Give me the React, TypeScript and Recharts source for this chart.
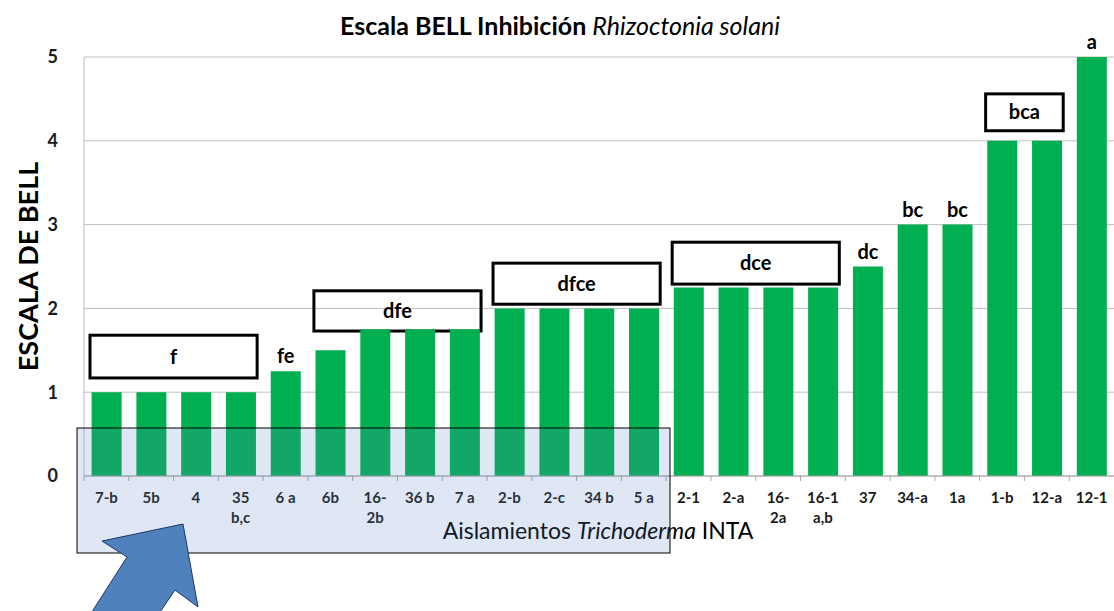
import {
  BarChart,
  Bar,
  XAxis,
  YAxis,
  CartesianGrid,
  ReferenceArea,
  LabelList,
} from "recharts";

const isolates = [
  "7-b", "5b", "4", "35\nb,c", "6 a", "6b", "16-\n2b", "36 b", "7 a", "2-b", "2-c", "34 b",
  "5 a", "2-1", "2-a", "16-\n2a", "16-1\na,b", "37", "34-a", "1a", "1-b", "12-a", "12-1",
];
const bellScores = [
  1, 1, 1, 1, 1.25, 1.5, 1.75, 1.75, 1.75, 2, 2, 2, 2, 2.25, 2.25, 2.25, 2.25, 2.5, 3, 3, 4, 4, 5,
];
const letters = [
  "", "", "", "", "fe", "", "", "", "", "", "", "", "", "", "", "", "", "dc", "bc", "bc", "", "", "a",
];
const yTicks = [0, 1, 2, 3, 4, 5];

// grupos estadísticos (recuadros)
const groupLabels = ["f", "dfe", "dfce", "dce", "bca"];
const groupFrom = ["7-b", "6b", "2-b", "2-1", "1-b"];
const groupTo = ["35\nb,c", "7 a", "5 a", "16-1\na,b", "12-a"];
const groupLow = [1.17, 1.73, 2.05, 2.29, 4.12];
const groupHigh = [1.68, 2.21, 2.54, 2.79, 4.56];

const data = isolates.map((isolate, i) => ({
  isolate,
  score: bellScores[i],
  letter: letters[i],
}));

const FONT = "Lato, 'Open Sans', sans-serif";

const IsolateTick = (props: any) => {
  const { x, y, payload } = props;
  const half = payload.offset || 22.4;
  const lines = String(payload.value).split("\n");
  return (
    <g>
      <line x1={x - half} y1={y - 8} x2={x - half} y2={y - 3} stroke="#a6a6a6" />
      <text x={x} y={y} textAnchor="middle" fontSize={15} fontWeight="bold" fill="#1a1a1a" fontFamily={FONT}>
        {lines.map((l, i) => (
          <tspan key={i} x={x} dy={i === 0 ? 19 : 20}>
            {l}
          </tspan>
        ))}
      </text>
    </g>
  );
};

const YTitle = (props: any) => {
  const vb = props.viewBox || { x: 0, y: 57, height: 419 };
  const cx = vb.x + 27;
  const cy = vb.y + vb.height / 2;
  return (
    <text
      x={cx}
      y={cy}
      transform={`rotate(-90 ${cx} ${cy})`}
      textAnchor="middle"
      dominantBaseline="central"
      fontSize={27}
      fontWeight="bold"
      fill="#000"
      fontFamily={FONT}
    >
      ESCALA DE BELL
    </text>
  );
};

const GroupBox = (p: any) => (
  <rect
    x={p.x + 6}
    y={p.y}
    width={Math.max(0, p.width - 12)}
    height={p.height}
    fill="none"
    stroke="#000"
    strokeWidth={3}
  />
);

export default function App() {
  return (
    <div style={{ position: "absolute", left: 0, top: 0, width: 1114, height: 611, fontFamily: FONT }}>
      <BarChart
        width={1114}
        height={611}
        data={data}
        margin={{ top: 57, right: 0, left: 0, bottom: 75 }}
        barCategoryGap="17%"
      >
        <CartesianGrid vertical={false} stroke="#bfbfbf" />
        <XAxis
          dataKey="isolate"
          interval={0}
          height={60}
          tickLine={false}
          axisLine={{ stroke: "#a6a6a6" }}
          tick={<IsolateTick />}
        />
        <YAxis
          domain={[0, 5]}
          ticks={yTicks}
          width={84}
          tickLine={false}
          tickMargin={20}
          axisLine={{ stroke: "#bfbfbf" }}
          tick={{ fontSize: 18, fontWeight: "bold", fill: "#1a1a1a", fontFamily: FONT }}
          label={<YTitle />}
        />
        <Bar dataKey="score" fill="#00b050" isAnimationActive={false}>
          <LabelList
            dataKey="letter"
            position="top"
            offset={8}
            fontSize={20}
            fontWeight="bold"
            fill="#000"
            fontFamily={FONT}
          />
        </Bar>
        {groupLabels.map((g, i) => (
          <ReferenceArea
            key={g}
            x1={groupFrom[i]}
            x2={groupTo[i]}
            y1={groupLow[i]}
            y2={groupHigh[i]}
            shape={GroupBox}
            label={{ value: g, position: "center", fontSize: 20, fontWeight: "bold", fill: "#000", fontFamily: FONT }}
          />
        ))}
      </BarChart>
      <svg
        width={1114}
        height={611}
        style={{ position: "absolute", left: 0, top: 0, pointerEvents: "none" }}
        fontFamily={FONT}
      >
        <text x={560} y={35} textAnchor="middle" fontSize={25} fontWeight="bold" fill="#000">
          Escala BELL Inhibición <tspan fontStyle="italic" fontWeight="normal">Rhizoctonia solani</tspan>
        </text>
        <text x={598} y={539} textAnchor="middle" fontSize={23} fill="#000">
          Aislamientos <tspan fontStyle="italic">Trichoderma</tspan> INTA
        </text>
        <rect x={77} y={428} width={593} height={125} fill="#5b86c3" fillOpacity={0.2} stroke="#000" strokeWidth={1} />
        <polygon
          points="183,524 102,541 127,557 88,618 156,618 175,590 198,607"
          fill="#4f81bd"
          stroke="#1f3763"
          strokeWidth={1}
        />
      </svg>
    </div>
  );
}
